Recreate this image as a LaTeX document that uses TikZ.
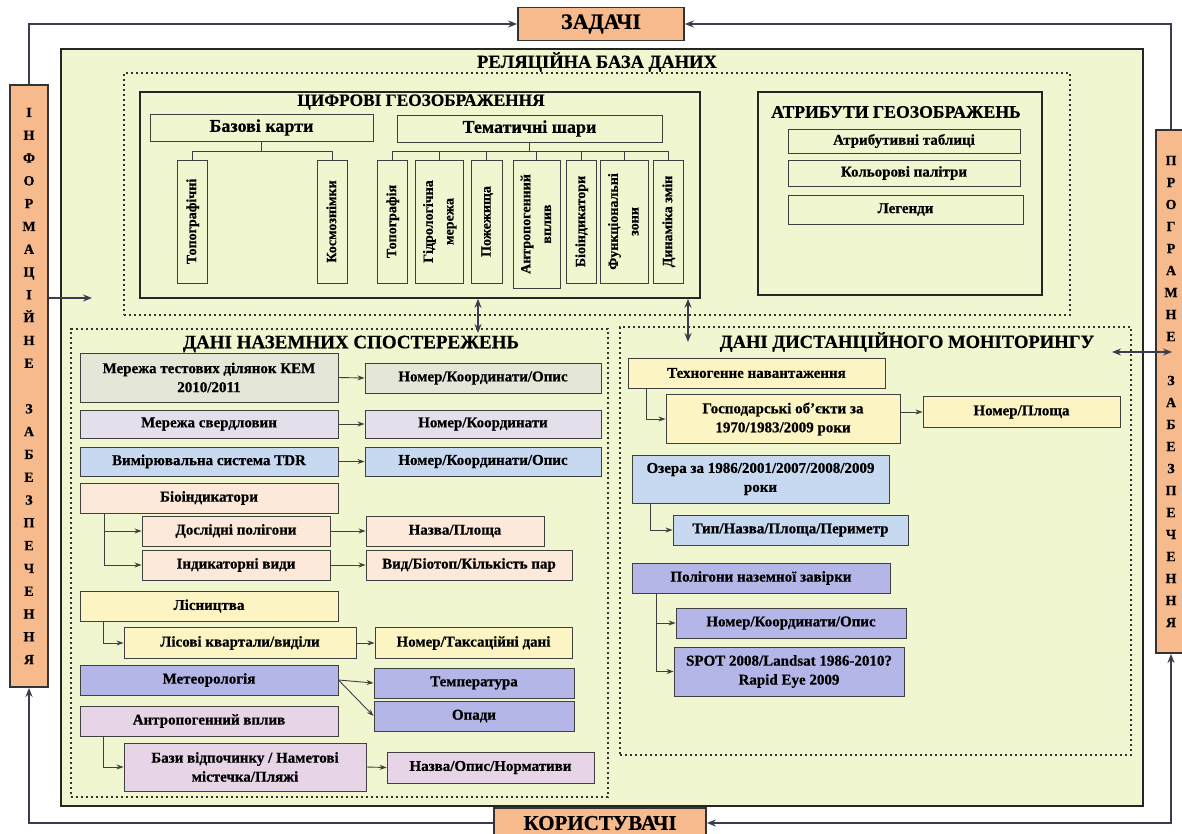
\documentclass[tikz,border=0pt]{standalone}
\usepackage{fontspec}
\usepackage{graphicx}
\setmainfont{Liberation Serif}[BoldFeatures={FakeBold=0.6}]
\usetikzlibrary{arrows.meta}

\definecolor{bgfill}{RGB}{240,247,208}
\definecolor{orng}{RGB}{246,186,140}
\definecolor{grn}{RGB}{228,230,216}
\definecolor{lav}{RGB}{229,223,236}
\definecolor{blu}{RGB}{198,217,241}
\definecolor{pch}{RGB}{253,233,217}
\definecolor{ylw}{RGB}{252,244,194}
\definecolor{per}{RGB}{180,182,232}
\definecolor{pnk}{RGB}{231,212,231}
\definecolor{edge}{RGB}{64,64,64}
\definecolor{linec}{RGB}{60,60,80}

\newcommand{\vtxt}[1]{\rotatebox{90}{\renewcommand{\arraystretch}{1.15}\begin{tabular}{@{}c@{}}#1\end{tabular}}}

\begin{document}
\begin{tikzpicture}[x=1pt,y=-1pt,
    box/.style={draw=edge, line width=0.9pt, inner sep=1pt, align=center,
      font=\fontsize{15}{19}\selectfont\bfseries},
    vbox/.style={box, minimum height=123pt, font=\fontsize{14}{18}\selectfont\bfseries},
    bigbox/.style={draw=black!85, line width=1.6pt},
    dots/.style={draw=black!80, line width=2.2pt, dash pattern=on 2.2pt off 2.8pt},
    side/.style={draw=black!80, line width=1.8pt, fill=orng, align=center, inner sep=1pt},
    ttl/.style={font=\fontsize{18}{20}\selectfont\bfseries},
    arr/.style={draw=edge, line width=0.9pt, -{Stealth[length=7pt,width=5pt]}},
    link/.style={draw=linec, line width=1.6pt, -{Stealth[length=9pt,width=7pt]}},
    link2/.style={draw=linec, line width=1.6pt, {Stealth[length=9pt,width=7pt]}-{Stealth[length=9pt,width=7pt]}},
    tree/.style={draw=edge, line width=0.9pt}
  ]
\path[use as bounding box, fill=white] (0,0) rectangle (1182,834);

\node[bigbox, fill=bgfill, minimum width=1082pt, minimum height=757pt] (rel) at (602,427.5) {};
\node[ttl, font=\fontsize{18.5}{20}\selectfont\bfseries] (relt) at (597,62) {РЕЛЯЦІЙНА БАЗА ДАНИХ};

\node[dots, minimum width=946pt, minimum height=242pt] (geo) at (597,194) {};
\node[dots, minimum width=537pt, minimum height=468pt] (nazem) at (339.5,563) {};
\node[dots, minimum width=511pt, minimum height=428pt] (dist) at (875.5,541) {};

\node[bigbox, minimum width=560pt, minimum height=206pt] (cif) at (420,195) {};
\node[ttl, font=\fontsize{17.3}{20}\selectfont\bfseries] (cift) at (421,102) {ЦИФРОВІ ГЕОЗОБРАЖЕННЯ};
\node[box, minimum width=223pt, minimum height=27pt, font=\fontsize{18}{20}\selectfont\bfseries] (bk) at (261.5,127.5) {Базові карти};
\node[box, minimum width=265pt, minimum height=27pt, font=\fontsize{18}{20}\selectfont\bfseries] (ts) at (529.5,128.5) {Тематичні шари};
\node[vbox, minimum width=30pt] (topo) at (192,221.5) {\vtxt{Топографічні}};
\node[vbox, minimum width=30pt] (kos) at (332,221.5) {\vtxt{Космознімки}};
\node[vbox, minimum width=30pt] (topg) at (392,221.5) {\vtxt{Топографія}};
\node[vbox, minimum width=48pt] (gidr) at (439,221.5) {\vtxt{Гідрологічна\\мережа}};
\node[vbox, minimum width=31pt] (pozh) at (486.5,221.5) {\vtxt{Пожежища}};
\node[vbox, minimum width=47pt, minimum height=128pt] (antv) at (536.5,224) {\vtxt{Антропогенний\\вплив}};
\node[vbox, minimum width=30pt] (bioi) at (581,221.5) {\vtxt{Біоіндикатори}};
\node[vbox, minimum width=48pt] (func) at (624,221.5) {\vtxt{Функціональні\\зони}};
\node[vbox, minimum width=30pt] (din) at (668,221.5) {\vtxt{Динаміка змін}};
\draw[tree] (bk.south) -- ++(0,11);
\draw[tree] (topo.north) -- ++(0,-8) -| (kos.north);
\draw[tree] (ts.south) -- ++(0,10);
\draw[tree] (topg.north) -- ++(0,-8) -| (din.north);
\draw[tree] (gidr.north) -- ++(0,-8);
\draw[tree] (pozh.north) -- ++(0,-8);
\draw[tree] (antv.north) -- ++(0,-8);
\draw[tree] (bioi.north) -- ++(0,-8);
\draw[tree] (func.north) -- ++(0,-8);

\node[bigbox, minimum width=284pt, minimum height=203pt] (atr) at (900,193.5) {};
\node[ttl, font=\fontsize{17.7}{20}\selectfont\bfseries] (atrt) at (896,112) {АТРИБУТИ ГЕОЗОБРАЖЕНЬ};
\node[box, minimum width=232pt, minimum height=24pt] (tab) at (904,141) {Атрибутивні таблиці};
\node[box, minimum width=232pt, minimum height=26pt] (pal) at (904,173) {Кольорові палітри};
\node[box, minimum width=235pt, minimum height=29pt] (leg) at (905.5,209.5) {Легенди};

\node[ttl, font=\fontsize{19}{20}\selectfont\bfseries] (nazt) at (351,344) {ДАНІ НАЗЕМНИХ СПОСТЕРЕЖЕНЬ};
\node[box, fill=grn, minimum width=258pt, minimum height=49pt] (t1) at (209,377.5) {Мережа тестових ділянок КЕМ\\2010/2011};
\node[box, fill=grn, minimum width=236pt, minimum height=30pt] (t1r) at (483,378) {Номер/Координати/Опис};
\node[box, fill=lav, minimum width=258pt, minimum height=28pt] (t2) at (209,424) {Мережа свердловин};
\node[box, fill=lav, minimum width=236pt, minimum height=28pt] (t2r) at (483,424) {Номер/Координати};
\node[box, fill=blu, minimum width=258pt, minimum height=29pt] (t3) at (209,461.5) {Вимірювальна система TDR};
\node[box, fill=blu, minimum width=236pt, minimum height=29pt] (t3r) at (483,461.5) {Номер/Координати/Опис};
\node[box, fill=pch, minimum width=258pt, minimum height=30pt] (bio) at (209,498) {Біоіндикатори};
\node[box, fill=pch, minimum width=188pt, minimum height=30pt] (dosl) at (236,531) {Дослідні полігони};
\node[box, fill=pch, minimum width=178pt, minimum height=30pt] (doslr) at (455,531) {Назва/Площа};
\node[box, fill=pch, minimum width=188pt, minimum height=30pt] (ind) at (236,565) {Індикаторні види};
\node[box, fill=pch, minimum width=206pt, minimum height=30pt] (indr) at (469,565) {Вид/Біотоп/Кількість пар};
\node[box, fill=ylw, minimum width=258pt, minimum height=30pt] (lis) at (209,606) {Лісництва};
\node[box, fill=ylw, minimum width=232pt, minimum height=31pt] (lisk) at (240,643) {Лісові квартали/виділи};
\node[box, fill=ylw, minimum width=197pt, minimum height=31pt] (liskr) at (473.5,643) {Номер/Таксаційні дані};
\node[box, fill=per, minimum width=258pt, minimum height=30pt] (met) at (209,680) {Метеорологія};
\node[box, fill=per, minimum width=200pt, minimum height=30pt] (temp) at (474,683) {Температура};
\node[box, fill=per, minimum width=200pt, minimum height=30pt] (opad) at (474,716) {Опади};
\node[box, fill=pnk, minimum width=258pt, minimum height=30pt] (antr) at (209,721) {Антропогенний вплив};
\node[box, fill=pnk, minimum width=242pt, minimum height=48pt] (baz) at (245,767) {Бази відпочинку / Наметові\\містечка/Пляжі};
\node[box, fill=pnk, minimum width=207pt, minimum height=31pt] (bazr) at (490.5,767.5) {Назва/Опис/Нормативи};
\draw[arr] (t1.east) -- (t1r.west);
\draw[arr] (t2.east) -- (t2r.west);
\draw[arr] (t3.east) -- (t3r.west);
\draw[arr] ([xshift=-105pt]bio.south) |- (dosl.west);
\draw[arr] ([xshift=-105pt]bio.south) |- (ind.west);
\draw[arr] (dosl.east) -- (doslr.west);
\draw[arr] (ind.east) -- (indr.west);
\draw[arr] ([xshift=-106pt]lis.south) |- (lisk.west);
\draw[arr] (lisk.east) -- (liskr.west);
\draw[arr] (met.east) -- (temp.west);
\draw[arr] (met.east) -- (opad.west);
\draw[arr] ([xshift=-106pt]antr.south) |- (baz.west);
\draw[arr] (baz.east) -- (bazr.west);

\node[ttl, font=\fontsize{18.6}{20}\selectfont\bfseries] (distt) at (907,342) {ДАНІ ДИСТАНЦІЙНОГО МОНІТОРИНГУ};
\node[box, fill=ylw, minimum width=257pt, minimum height=30pt] (tech) at (756.5,373) {Техногенне навантаження};
\node[box, fill=ylw, minimum width=234pt, minimum height=49pt] (gosp) at (783,419) {Господарські об'єкти за\\1970/1983/2009 роки};
\node[box, fill=ylw, minimum width=197pt, minimum height=31pt] (gospr) at (1021.5,412) {Номер/Площа};
\node[box, fill=blu, minimum width=257pt, minimum height=48pt] (oz) at (760.5,479) {Озера за 1986/2001/2007/2008/2009\\роки};
\node[box, fill=blu, minimum width=235pt, minimum height=30pt] (tip) at (790.5,530) {Тип/Назва/Площа/Периметр};
\node[box, fill=per, minimum width=258pt, minimum height=30pt] (pol) at (761,578) {Полігони наземної завірки};
\node[box, fill=per, minimum width=230pt, minimum height=30pt] (polk) at (791,623) {Номер/Координати/Опис};
\node[box, fill=per, minimum width=230pt, minimum height=49pt] (spot) at (789,671.5) {SPOT 2008/Landsat 1986-2010?\\Rapid Eye 2009};
\draw[arr] ([xshift=-110pt]tech.south) |- (gosp.west);
\draw[arr] (gosp.east |- gospr.west) -- (gospr.west);
\draw[arr] ([xshift=-110pt]oz.south) |- (tip.west);
\draw[arr] ([xshift=-105pt]pol.south) |- (polk.west);
\draw[arr] ([xshift=-105pt]pol.south) |- (spot.west);

\node[side, minimum width=166pt, minimum height=33pt, font=\fontsize{22}{24}\selectfont\bfseries] (zad) at (601,24) {ЗАДАЧІ};
\node[side, minimum width=212pt, minimum height=30pt, font=\fontsize{21}{24}\selectfont\bfseries] (kor) at (600,823) {КОРИСТУВАЧІ};
\node[side, minimum width=38pt, minimum height=602pt, font=\fontsize{14}{22.8}\selectfont\bfseries] (info) at (29,386)
  {І\\Н\\Ф\\О\\Р\\М\\А\\Ц\\І\\Й\\Н\\Е\\\mbox{}\\З\\А\\Б\\Е\\З\\П\\Е\\Ч\\Е\\Н\\Н\\Я};
\node[side, minimum width=30pt, minimum height=523pt, font=\fontsize{14}{22}\selectfont\bfseries] (prog) at (1171,391.5)
  {П\\Р\\О\\Г\\Р\\А\\М\\Н\\Е\\\mbox{}\\З\\А\\Б\\Е\\З\\П\\Е\\Ч\\Е\\Н\\Н\\Я};

\coordinate (infoin) at (92,298);
\coordinate (da) at (1112,352);
\coordinate (db) at (1172,352);
\coordinate (ga) at (478,333);
\coordinate (gb) at (688,342);
\draw[link] (info.north) |- (zad.west);
\draw[link] (prog.north) |- (zad.east);
\draw[link] (kor.west) -| (info.south);
\draw[link2] (kor.east) -| (prog.south);
\draw[link] (info.east |- infoin) -- (infoin);
\draw[link2] (da) -- (db);
\draw[link2] (ga |- cif.south) -- (ga);
\draw[link2] (gb |- cif.south) -- (gb);
\end{tikzpicture}
\end{document}
